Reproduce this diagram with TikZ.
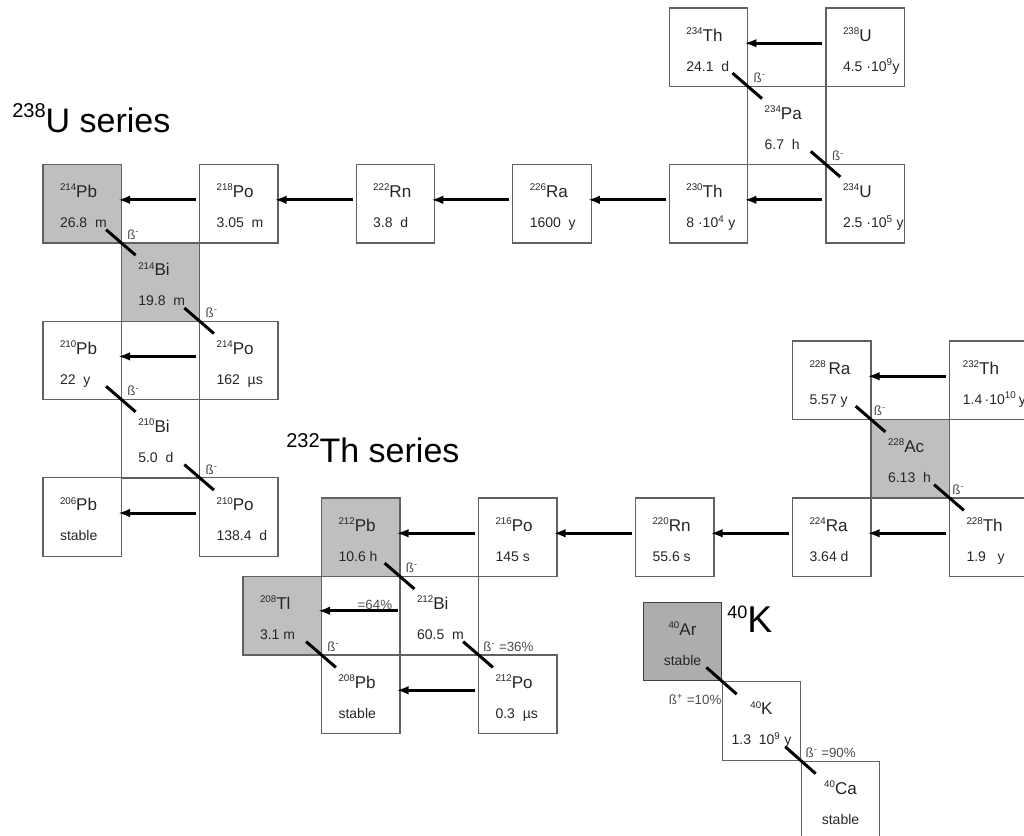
\documentclass[tikz,border=0pt]{standalone}
\usepackage{fontspec}
\setmainfont{Liberation Sans}
\usetikzlibrary{arrows.meta}

% mass number, symbol and half-life inside one box
\newcommand{\isotope}[4][\hskip12.75pt]{%
  \vbox to 58.8pt{\offinterlineskip\hsize=58.8pt
    \vskip24.75pt
    \hbox to\hsize{#1\smash{\fontsize{12.8}{14}\selectfont\raisebox{5pt}{\fontsize{7.3}{8}\selectfont #2}#3}\hss}
    \vskip22.5pt
    \hbox to\hsize{#1\smash{\fontsize{10.5}{12}\selectfont #4}\hss}
    \vfill}}

\begin{document}
\begin{tikzpicture}[x=0.75pt, y=-0.75pt,
    box/.style = {draw=black!62, line width=1pt, minimum size=58.8pt, inner sep=0pt, text=black!85},
    grey/.style = {box, fill=black!25},
    decay/.style = {line width=2.25pt, -{Latex[length=9pt,width=6.5pt]}},
    beta/.style = {line width=2.25pt},
    ann/.style = {anchor=south west, inner sep=0pt, text=black!70, font=\fontsize{10}{12}\selectfont},
    title/.style = {anchor=base west, inner sep=0pt, font=\fontsize{25.5}{30}\selectfont}]
\useasboundingbox (0,0) rectangle (1024,835);

% 238U series
\node[box] (Th234) at (708.6,47.2) {\isotope{234}{Th}{24.1~~d}};
\node[box] (U238) at (865.2,47.2) {\isotope{238}{U}{4.5 ·10\textsuperscript{9}y}};
\node[box] (Pa234) at (786.9,125.5) {\isotope{234}{Pa}{6.7~~h}};
\node[box] (Th230) at (708.6,203.8) {\isotope{230}{Th}{8 ·10\textsuperscript{4} y}};
\node[box] (U234) at (865.2,203.8) {\isotope{234}{U}{2.5 ·10\textsuperscript{5} y}};
\node[box] (Ra226) at (552,203.8) {\isotope{226}{Ra}{1600~~y}};
\node[box] (Rn222) at (395.4,203.8) {\isotope{222}{Rn}{3.8~~d}};
\node[box] (Po218) at (238.8,203.8) {\isotope{218}{Po}{3.05~~m}};
\node[grey] (Pb214) at (82.2,203.8) {\isotope{214}{Pb}{26.8~~m}};
\node[grey] (Bi214) at (160.5,282.1) {\isotope{214}{Bi}{19.8~~m}};
\node[box] (Po214) at (238.8,360.4) {\isotope{214}{Po}{162~~µs}};
\node[box] (Pb210) at (82.2,360.4) {\isotope{210}{Pb}{22~~y}};
\node[box] (Bi210) at (160.5,438.7) {\isotope{210}{Bi}{5.0~~d}};
\node[box] (Po210) at (238.8,517) {\isotope{210}{Po}{138.4~~d}};
\node[box] (Pb206) at (82.2,517) {\isotope{206}{Pb}{stable}};

% 232Th series
\node[box] (Th232) at (988.75,380.25) {\isotope[\hskip10pt]{232}{Th}{1.4\,·10\textsuperscript{10}\,y}};
\node[box] (Ra228) at (831.75,380.25) {\isotope{228}{\,Ra}{5.57 y}};
\node[grey] (Ac228) at (910.25,458.75) {\isotope{228}{Ac}{6.13~~h}};
\node[box] (Th228) at (988.75,537.25) {\isotope{228}{Th}{1.9~~~y}};
\node[box] (Ra224) at (831.75,537.25) {\isotope{224}{Ra}{3.64 d}};
\node[box] (Rn220) at (674.75,537.25) {\isotope{220}{Rn}{55.6 s}};
\node[box] (Po216) at (517.75,537.25) {\isotope{216}{Po}{145 s}};
\node[grey] (Pb212) at (360.75,537.25) {\isotope{212}{Pb}{10.6 h}};
\node[box] (Bi212) at (439.25,615.75) {\isotope{212}{Bi}{60.5~~m}};
\node[grey] (Tl208) at (282.25,615.75) {\isotope{208}{Tl}{3.1 m}};
\node[box] (Po212) at (517.75,694.25) {\isotope{212}{Po}{0.3~~µs}};
\node[box] (Pb208) at (360.75,694.25) {\isotope{208}{Pb}{stable}};

% 40K
\node[grey, fill=black!32, draw=black!75] (Ar40) at (682.5,641.5) {\isotope[\hss]{40}{Ar}{stable}};
\node[box] (K40) at (761.5,721) {\isotope[\hss]{40}{K}{1.3~~10\textsuperscript{9} y}};
\node[box] (Ca40) at (840.5,800.5) {\isotope[\hss]{40}{Ca}{stable}};

% titles
\node[title] (Useries) at (12,132) {\raisebox{11pt}{\fontsize{15}{16}\selectfont 238}U series};
\node[title] (Thseries) at (286,462) {\raisebox{11pt}{\fontsize{15}{16}\selectfont 232}Th series};
\node[title, font=\fontsize{28}{32}\selectfont] (Kseries) at (727,632) {\raisebox{10.5pt}{\fontsize{13.5}{15}\selectfont 40}K};

% alpha decays
\draw[decay] ([shift={(-3,-4)}]U238.west) -- ([shift={(-4,-4)}]Th234.east);
\draw[decay] ([shift={(-3,-4)}]U234.west) -- ([shift={(-4,-4)}]Th230.east);
\draw[decay] ([shift={(-3,-4)}]Th230.west) -- ([shift={(-4,-4)}]Ra226.east);
\draw[decay] ([shift={(-3,-4)}]Ra226.west) -- ([shift={(-4,-4)}]Rn222.east);
\draw[decay] ([shift={(-3,-4)}]Rn222.west) -- ([shift={(-4,-4)}]Po218.east);
\draw[decay] ([shift={(-3,-4)}]Po218.west) -- ([shift={(-4,-4)}]Pb214.east);
\draw[decay] ([shift={(-3,-4)}]Po214.west) -- ([shift={(-4,-4)}]Pb210.east);
\draw[decay] ([shift={(-3,-4)}]Po210.west) -- ([shift={(-4,-4)}]Pb206.east);
\draw[decay] ([shift={(-3,-4)}]Th232.west) -- ([shift={(-4,-4)}]Ra228.east);
\draw[decay] ([shift={(-3,-4)}]Th228.west) -- ([shift={(-4,-4)}]Ra224.east);
\draw[decay] ([shift={(-3,-4)}]Ra224.west) -- ([shift={(-4,-4)}]Rn220.east);
\draw[decay] ([shift={(-3,-4)}]Rn220.west) -- ([shift={(-4,-4)}]Po216.east);
\draw[decay] ([shift={(-3,-4)}]Po216.west) -- ([shift={(-4,-4)}]Pb212.east);
\draw[decay] ([shift={(-1,-5)}]Bi212.west) -- ([shift={(-4,-5)}]Tl208.east);
\draw[decay] ([shift={(-3,-4)}]Po212.west) -- ([shift={(-4,-4)}]Pb208.east);

% beta decays
\draw[beta] ([shift={(-16,-14)}]Th234.south east) -- ([shift={(15,13)}]Pa234.north west);
\draw[beta] ([shift={(-16,-14)}]Pa234.south east) -- ([shift={(15,13)}]U234.north west);
\draw[beta] ([shift={(-16,-14)}]Pb214.south east) -- ([shift={(15,13)}]Bi214.north west);
\draw[beta] ([shift={(-16,-14)}]Bi214.south east) -- ([shift={(15,13)}]Po214.north west);
\draw[beta] ([shift={(-16,-14)}]Pb210.south east) -- ([shift={(15,13)}]Bi210.north west);
\draw[beta] ([shift={(-16,-14)}]Bi210.south east) -- ([shift={(15,13)}]Po210.north west);
\draw[beta] ([shift={(-16,-14)}]Ra228.south east) -- ([shift={(15,13)}]Ac228.north west);
\draw[beta] ([shift={(-16,-14)}]Ac228.south east) -- ([shift={(15,13)}]Th228.north west);
\draw[beta] ([shift={(-16,-14)}]Pb212.south east) -- ([shift={(15,13)}]Bi212.north west);
\draw[beta] ([shift={(-16,-14)}]Bi212.south east) -- ([shift={(15,13)}]Po212.north west);
\draw[beta] ([shift={(-16,-14)}]Tl208.south east) -- ([shift={(15,13)}]Pb208.north west);
\draw[beta] ([shift={(-16,-14)}]Ar40.south east) -- ([shift={(15,13)}]K40.north west);
\draw[beta] ([shift={(-16,-14)}]K40.south east) -- ([shift={(15,13)}]Ca40.north west);

% labels
\node[ann] (lPa234) at ([shift={(5,-4)}]Th234.south east) {ß\textsuperscript{-}};
\node[ann] (lU234) at ([shift={(5,-4)}]Pa234.south east) {ß\textsuperscript{-}};
\node[ann] (lBi214) at ([shift={(5,-4)}]Pb214.south east) {ß\textsuperscript{-}};
\node[ann] (lPo214) at ([shift={(5,-4)}]Bi214.south east) {ß\textsuperscript{-}};
\node[ann] (lBi210) at ([shift={(5,-4)}]Pb210.south east) {ß\textsuperscript{-}};
\node[ann] (lPo210) at ([shift={(5,-4)}]Bi210.south east) {ß\textsuperscript{-}};
\node[ann] (lAc228) at ([shift={(2,-4)}]Ra228.south east) {ß\textsuperscript{-}};
\node[ann] (lTh228) at ([shift={(2,-4)}]Ac228.south east) {ß\textsuperscript{-}};
\node[ann] (lBi212) at ([shift={(5,-4)}]Pb212.south east) {ß\textsuperscript{-}};
\node[ann] (lPb208) at ([shift={(5,-4)}]Tl208.south east) {ß\textsuperscript{-}};
\node[ann] (lPo212) at ([shift={(4,-4)}]Bi212.south east) {ß\textsuperscript{-} =36\%};
\node[ann, anchor=south east] (lTl208) at ([shift={(-7,-6)}]Bi212.west) {=64\%};
\node[ann, anchor=north east] (lAr40) at ([shift={(0,13)}]K40.north west) {ß\textsuperscript{+} =10\%};
\node[ann] (lCa40) at ([shift={(4,-3)}]K40.south east) {ß\textsuperscript{-} =90\%};
\end{tikzpicture}
\end{document}
